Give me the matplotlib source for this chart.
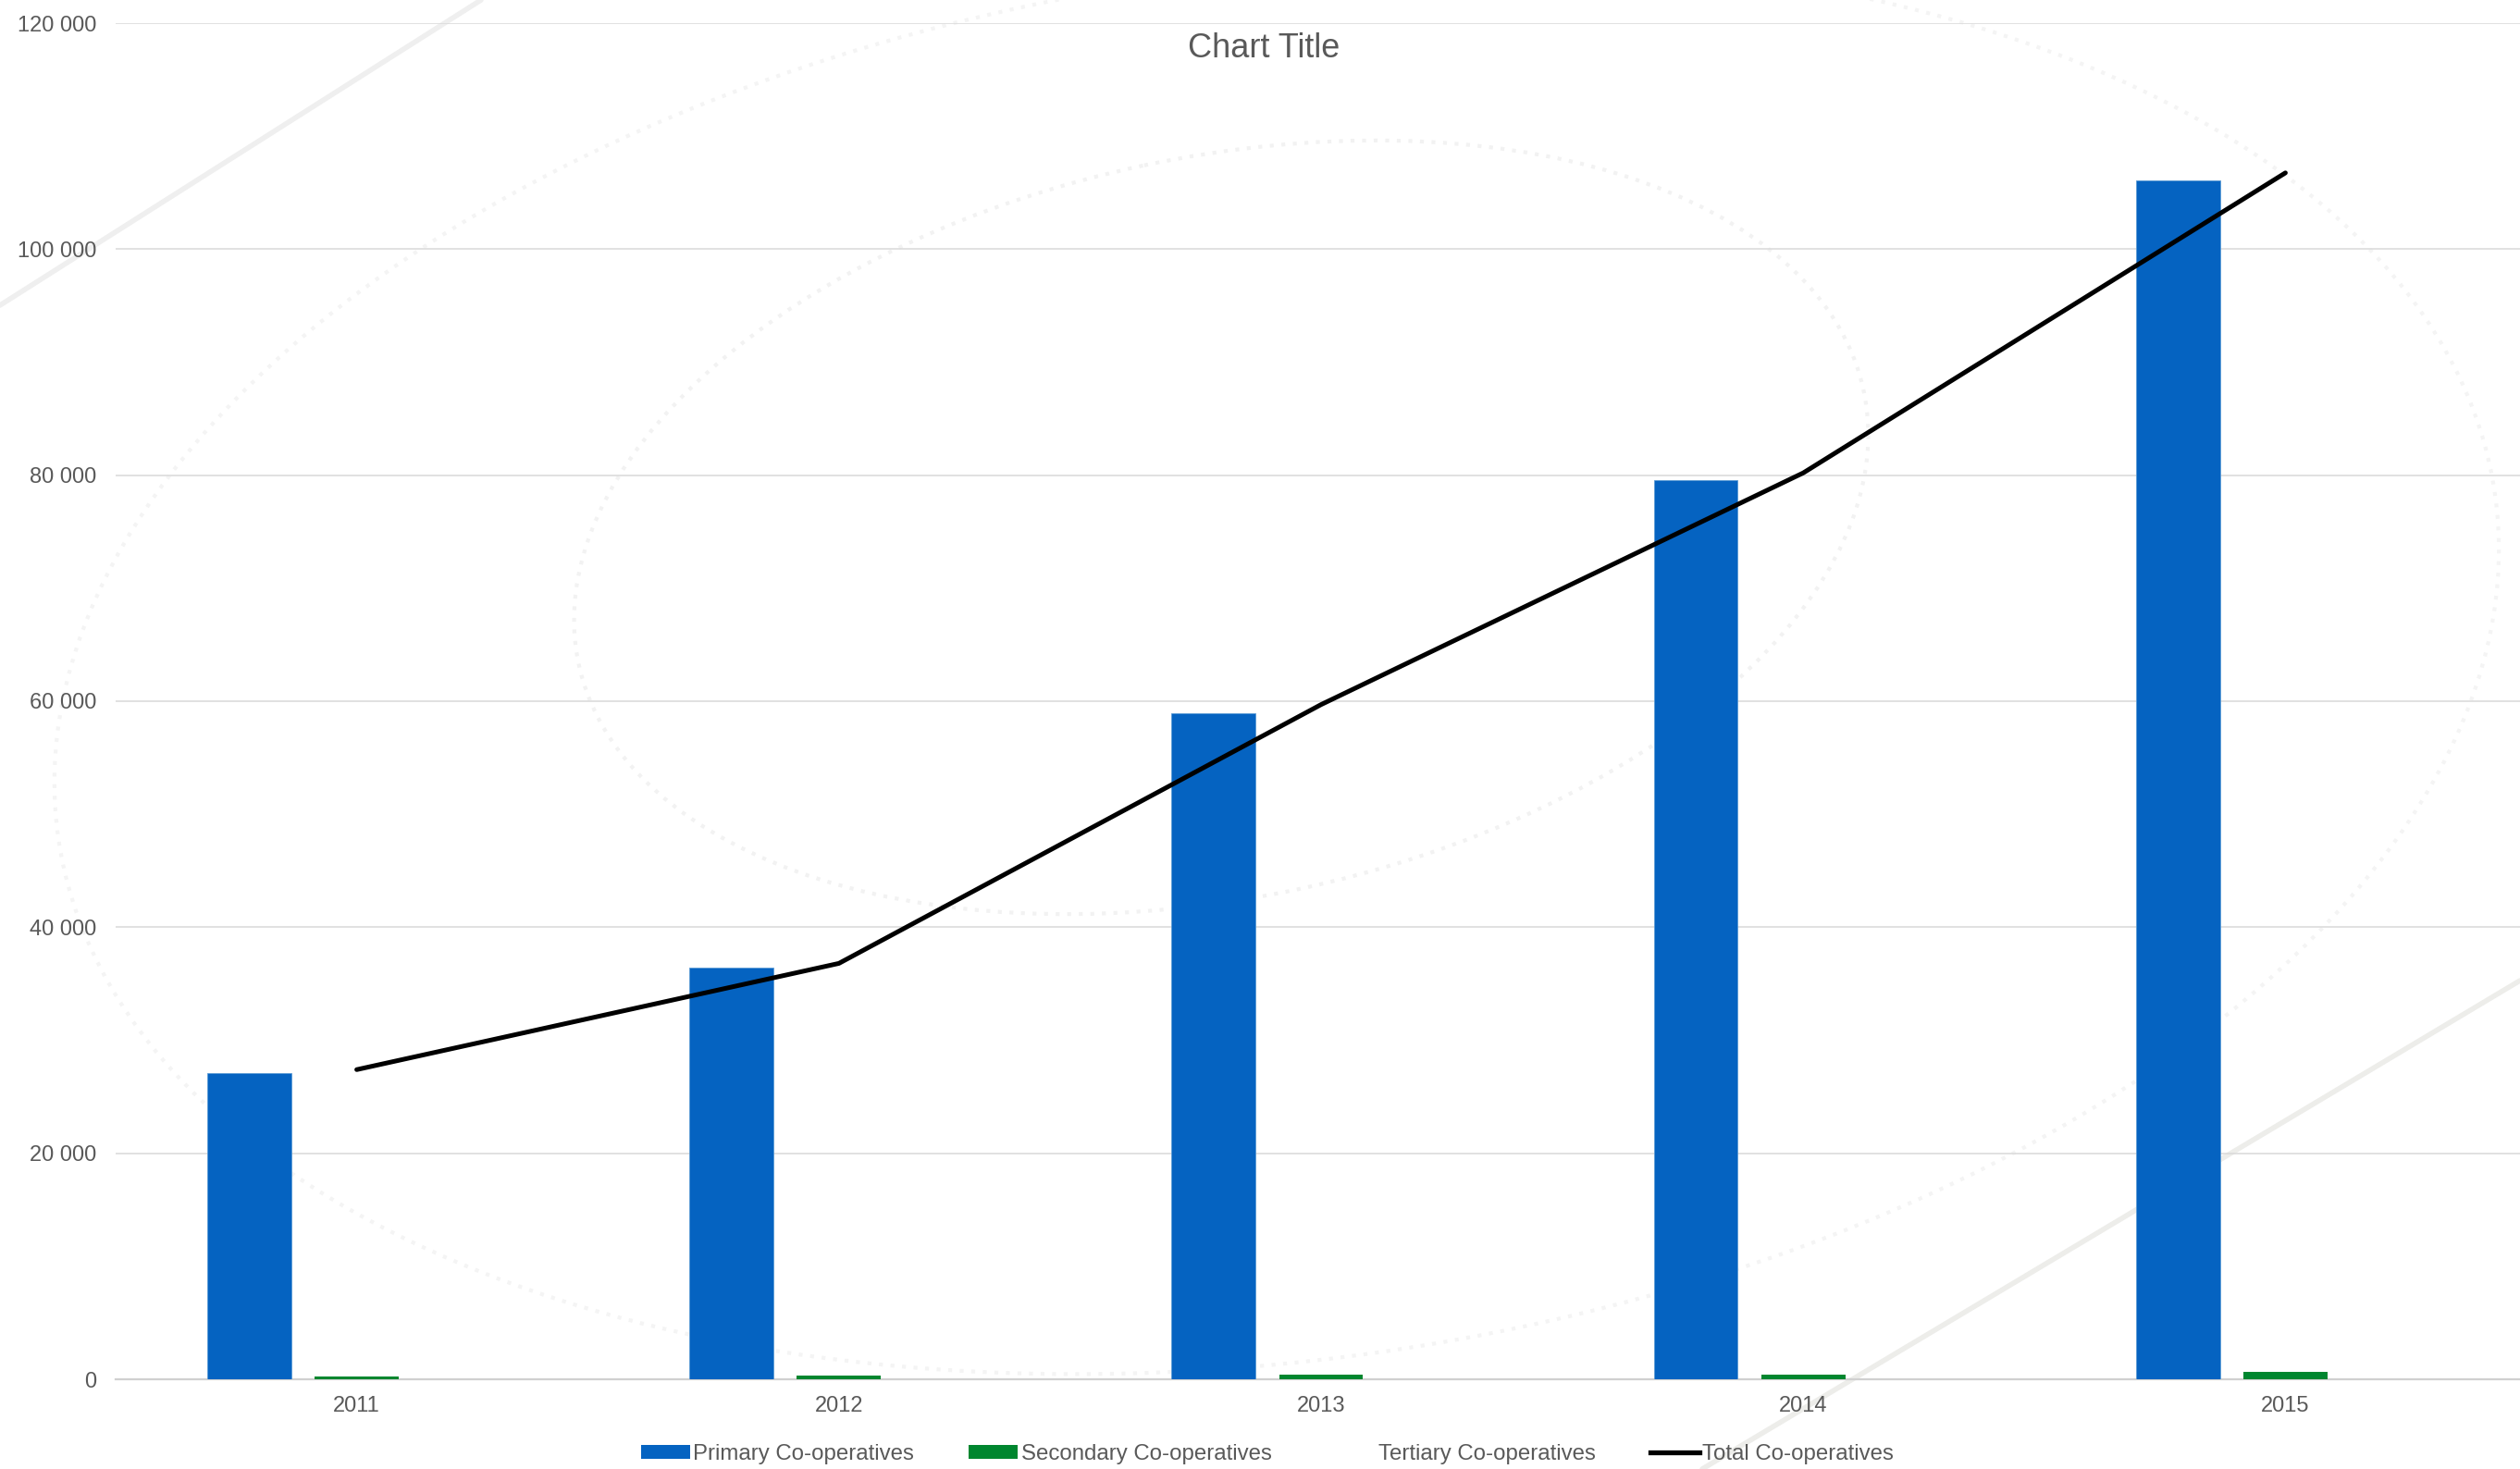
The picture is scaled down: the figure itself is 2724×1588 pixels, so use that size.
import matplotlib
matplotlib.use("Agg")
import matplotlib.pyplot as plt
import numpy as np
from matplotlib.patches import Ellipse, Patch
from matplotlib.lines import Line2D
from matplotlib.ticker import FuncFormatter

plt.rcParams['font.family'] = ['Liberation Sans', 'DejaVu Sans']

years = ["2011", "2012", "2013", "2014", "2015"]
primary = [27100, 36450, 58950, 79600, 106050]
secondary = [270, 300, 420, 450, 630]
tertiary = [30, 30, 40, 40, 50]
total = [27400, 36800, 59700, 80200, 106750]

series_names = ["Primary Co-operatives", "Secondary Co-operatives",
                "Tertiary Co-operatives", "Total Co-operatives"]
y_ticks = [0, 20000, 40000, 60000, 80000, 100000, 120000]

BLUE = "#0563C1"
GREEN = "#00862F"
TEXT = "#595959"
GRID = "#d9d9d9"

W, H = 2724, 1588
fig = plt.figure(figsize=(W / 100, H / 100), dpi=100)
fig.patch.set_facecolor("white")

# faint decorative swirl in the background
bg = fig.add_axes([0, 0, 1, 1], zorder=0)
bg.set_xlim(0, W)
bg.set_ylim(H, 0)
bg.axis("off")
bg.plot([0, 520], [330, 0], color="#efefef", lw=4, solid_capstyle="round")
bg.plot([1840, 2724], [1588, 1060], color="#ededea", lw=4, solid_capstyle="round")
bg.add_patch(Ellipse((1320, 570), 1420, 800, angle=-12, fill=False,
                     ec="#f2f2f2", lw=3, ls=(0, (1, 2))))
bg.add_patch(Ellipse((1380, 720), 2660, 1500, angle=-8, fill=False,
                     ec="#f4f4f4", lw=3, ls=(0, (1, 2))))

left, right = 125, 2731
bottom, top = 1491, 25
ax = fig.add_axes([left / W, 1 - bottom / H, (right - left) / W, (bottom - top) / H], zorder=1)
ax.patch.set_alpha(0)

x = np.arange(len(years))
bw = 0.174
step = 0.223
ax.bar(x - step, primary, width=bw, color=BLUE, edgecolor="#5b9bd5", linewidth=0.6, zorder=3)
ax.bar(x, secondary, width=bw, color=GREEN, zorder=3)
ax.bar(x + step, tertiary, width=bw, color="none", zorder=3)
ax.plot(x, total, color="black", lw=3.6, solid_capstyle="round", zorder=4)

ax.set_xlim(-0.5, len(years) - 0.5)
ax.set_ylim(0, 120000)
ax.set_yticks(y_ticks)
ax.yaxis.set_major_formatter(FuncFormatter(lambda v, p: f"{int(v):,}".replace(",", " ")))
ax.set_xticks(x)
ax.set_xticklabels(years)
ax.grid(axis="y", color=GRID, lw=1.1, zorder=0)
ax.set_axisbelow(True)
for s in ["top", "right", "left"]:
    ax.spines[s].set_visible(False)
ax.spines["bottom"].set_color("#d0d0d0")
ax.spines["bottom"].set_linewidth(1.6)
ax.tick_params(axis="y", length=0, pad=15, labelsize=17, labelcolor=TEXT)
ax.tick_params(axis="x", length=0, pad=13, labelsize=17, labelcolor=TEXT)

fig.text(1366 / W, 1 - 52 / H, "Chart Title", ha="center", va="center",
         fontsize=26, color=TEXT)

handles = [
    Patch(facecolor=BLUE, edgecolor="none"),
    Patch(facecolor=GREEN, edgecolor="none"),
    Patch(facecolor="none", edgecolor="none"),
    Line2D([0], [0], color="black", lw=3.8),
]
leg = fig.legend(handles, series_names, loc="center", bbox_to_anchor=(1370 / W, 1 - 1572 / H),
                 ncol=4, frameon=False, fontsize=17.3, labelcolor=TEXT,
                 handlelength=2.2, handleheight=0.55, handletextpad=0.15, columnspacing=2.45)

fig.savefig("out.png", dpi=100, facecolor="white")
